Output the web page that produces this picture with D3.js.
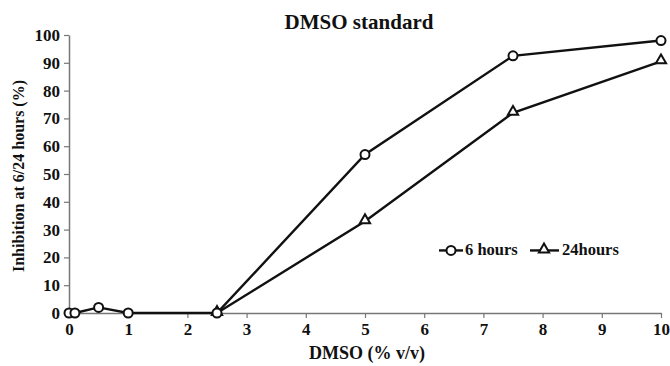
<!DOCTYPE html>
<html>
<head>
<meta charset="utf-8">
<script src="https://cdn.jsdelivr.net/npm/d3@7"></script>
<style>
  body { margin: 0; background: #fff; }
  text { font-family: "Liberation Serif", "Times New Roman", serif; font-weight: bold; }
</style>
</head>
<body>
<div id="chart"></div>
<script>
// data
const doses6 = [0, 0.1, 0.5, 1, 2.5, 5, 7.5, 10];
const hours6 = [0, 0, 2, 0, 0, 57, 92.5, 98];
const doses24 = [2.5, 5, 7.5, 10];
const hours24 = [0, 33, 72, 90.5];
const xTicks = [0, 1, 2, 3, 4, 5, 6, 7, 8, 9, 10];
const yTicks = [0, 10, 20, 30, 40, 50, 60, 70, 80, 90, 100];

const margin = {top: 35, right: 9, bottom: 53, left: 69},
  width = 670 - margin.left - margin.right,
  height = 366 - margin.top - margin.bottom;

const svg = d3.select("#chart")
.append("svg")
  .attr("width", width + margin.left + margin.right)
  .attr("height", height + margin.top + margin.bottom)
.append("g")
  .attr("transform", `translate(${margin.left},${margin.top})`);

const x = d3.scaleLinear().domain([0, 10]).range([0, width]);
const y = d3.scaleLinear().domain([0, 100]).range([height, 0]);

// axes
const xAxis = svg.append("g")
  .attr("transform", `translate(0,${height})`)
  .call(d3.axisBottom(x).tickValues(xTicks).tickSize(5).tickSizeOuter(0).tickPadding(5));
const yAxis = svg.append("g")
  .call(d3.axisLeft(y).tickValues(yTicks).tickSize(5).tickSizeOuter(0).tickPadding(4));

[xAxis, yAxis].forEach(a => {
  a.select(".domain").attr("stroke", "#777").attr("stroke-width", 1.5);
  a.selectAll(".tick line").attr("stroke", "#777").attr("stroke-width", 1.2);
  a.selectAll(".tick text")
    .attr("fill", "#111")
    .style("font-size", "17px")
    .style("font-family", "'Liberation Serif', serif")
    .style("font-weight", "bold");
});

const line = d3.line().x(d => x(d[0])).y(d => y(d[1]));
const s6 = doses6.map((d, i) => [d, hours6[i]]);
const s24 = doses24.map((d, i) => [d, hours24[i]]);

svg.append("path").datum(s24).attr("d", line)
  .attr("fill", "none").attr("stroke", "#111").attr("stroke-width", 2.4);
svg.append("path").datum(s6).attr("d", line)
  .attr("fill", "none").attr("stroke", "#111").attr("stroke-width", 2.4);

const tri = d3.symbol().type(d3.symbolTriangle).size(45);

svg.selectAll(".tri")
  .data(s24)
  .enter()
  .append("path")
    .attr("transform", d => `translate(${x(d[0])},${y(d[1]) - 1})`)
    .attr("d", tri)
    .attr("fill", "#fff")
    .attr("stroke", "#111")
    .attr("stroke-width", 2);

svg.selectAll(".circ")
  .data(s6)
  .enter()
  .append("circle")
    .attr("cx", d => x(d[0]))
    .attr("cy", d => y(d[1]))
    .attr("r", 4.5)
    .attr("fill", "#fff")
    .attr("stroke", "#111")
    .attr("stroke-width", 2);

// legend
const leg = svg.append("g").attr("transform", `translate(${x(6.25)},${y(22.5)})`);
leg.append("line").attr("x1", 0).attr("x2", 24).attr("stroke", "#111").attr("stroke-width", 2.4);
leg.append("circle").attr("cx", 12).attr("r", 4.5).attr("fill", "#fff").attr("stroke", "#111").attr("stroke-width", 2);
leg.append("text").attr("x", 26).attr("y", 5).style("font-size", "16.5px").attr("fill", "#111").text("6 hours");
leg.append("line").attr("x1", 91).attr("x2", 120).attr("stroke", "#111").attr("stroke-width", 2.4);
leg.append("path").attr("transform", "translate(105,-1)").attr("d", tri)
  .attr("fill", "#fff").attr("stroke", "#111").attr("stroke-width", 2);
leg.append("text").attr("x", 123).attr("y", 5).style("font-size", "16.5px").attr("fill", "#111").text("24hours");

// titles
svg.append("text")
  .attr("x", 290).attr("y", -6)
  .attr("text-anchor", "middle")
  .style("font-size", "21px")
  .attr("fill", "#111")
  .text("DMSO standard");

svg.append("text")
  .attr("x", 298).attr("y", height + 46)
  .attr("text-anchor", "middle")
  .style("font-size", "18px")
  .attr("fill", "#111")
  .text("DMSO (% v/v)");

svg.append("text")
  .attr("transform", `translate(-45,${height / 2 + 2}) rotate(-90)`)
  .attr("text-anchor", "middle")
  .style("font-size", "16px")
  .attr("fill", "#111")
  .text("Inhibition at 6/24 hours (%)");
</script>
</body>
</html>
